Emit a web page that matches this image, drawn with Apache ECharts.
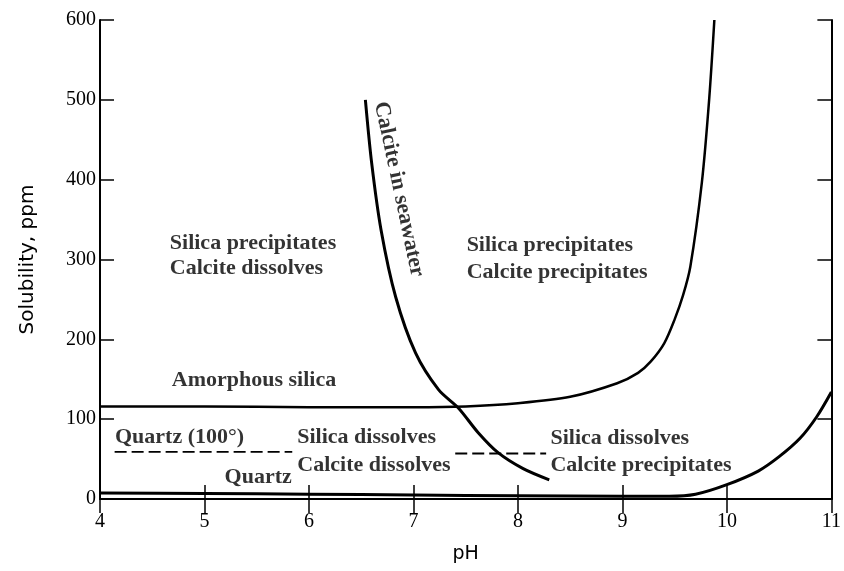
<!DOCTYPE html>
<html>
<head>
<meta charset="utf-8">
<script src="https://cdn.jsdelivr.net/npm/echarts@6/dist/echarts.min.js"></script>
<style>html,body{margin:0;padding:0;background:#fff}#c{width:844px;height:571px}</style>
</head>
<body>
<div id="c"></div>
<script>
// ---- data ----
const xTicks = [4, 5, 6, 7, 8, 9, 10, 11];
const yTicks = [0, 100, 200, 300, 400, 500, 600];

const amorphousPH  = [4, 5, 6, 7, 7.5, 8, 8.5, 8.95, 9.15, 9.27, 9.4, 9.5, 9.58, 9.65, 9.76, 9.83, 9.88];
const amorphousPPM = [116, 116, 115, 115, 116, 120, 128, 145, 158, 172, 195, 225, 255, 291, 396, 500, 600];

const calcitePH  = [6.54, 6.6, 6.69, 6.83, 7.02, 7.24, 7.43, 7.62, 7.81, 8.05, 8.3];
const calcitePPM = [500, 421, 337, 253, 183, 137, 114, 83, 58, 38, 24];

const quartzPH  = [4, 5, 6, 7, 8, 9, 9.45, 9.7, 10, 10.3, 10.5, 10.7, 10.86, 11];
const quartzPPM = [7.5, 7, 6, 5, 4, 3.5, 3.5, 6, 18, 35, 53, 76, 103, 134];

const quartz100aPH  = [4.14, 5.84];
const quartz100aPPM = [59, 59];
const quartz100bPH  = [7.4, 8.27];
const quartz100bPPM = [57, 57];

const noteText = ['Silica precipitates', 'Calcite dissolves', 'Silica precipitates', 'Calcite precipitates',
  'Amorphous silica', 'Quartz (100°)', 'Quartz', 'Silica dissolves', 'Calcite dissolves',
  'Silica dissolves', 'Calcite precipitates'];
const notePH  = [4.668, 4.668, 7.509, 7.509, 4.687, 4.143, 5.192, 5.888, 5.888, 8.311, 8.311];
const notePPM = [320.7, 289.4, 318.2, 284.4, 149.1, 77.7, 27.6, 77.7, 42.6, 76.4, 42.6];

const curveLabelText = 'Calcite in seawater';
const curveLabelPH = 6.861;
const curveLabelPPM = 388;

// ---- chart ----
const pair = (xs, ys) => xs.map((x, i) => [x, ys[i]]);
const ink = '#000';
const serif = '"Liberation Serif", "Times New Roman", serif';

const baseX = {
  type: 'value', min: xTicks[0], max: xTicks[xTicks.length - 1], interval: 1,
  axisLine: { show: true, lineStyle: { color: ink, width: 2 } },
  axisTick: { show: true, inside: true, length: 14, lineStyle: { color: ink, width: 1.5 } },
  splitLine: { show: false }
};
const baseY = {
  type: 'value', min: yTicks[0], max: yTicks[yTicks.length - 1], interval: 100,
  axisLine: { show: true, lineStyle: { color: ink, width: 2 } },
  axisTick: { show: true, inside: true, length: 14, lineStyle: { color: ink, width: 1.5 } },
  splitLine: { show: false }
};

const lineSeries = (xs, ys, w, extra) => Object.assign({
  type: 'line', xAxisIndex: 0, yAxisIndex: 0,
  data: pair(xs, ys), showSymbol: false, symbol: 'none',
  smooth: 0.3,
  lineStyle: { color: ink, width: w }, silent: true, animation: false
}, extra || {});

const option = {
  animation: false,
  backgroundColor: '#fff',
  grid: { left: 100, right: 10, top: 20, bottom: 72, containLabel: false },
  xAxis: [
    Object.assign({}, baseX, {
      position: 'bottom',
      axisLabel: { show: true, margin: 13, color: ink, fontFamily: serif, fontSize: 20 },
      name: 'pH', nameLocation: 'middle', nameGap: 46,
      nameTextStyle: { color: ink, fontFamily: '"DejaVu Sans", sans-serif', fontSize: 19 }
    }),
    Object.assign({}, baseX, { position: 'top', axisLabel: { show: false } })
  ],
  yAxis: [
    Object.assign({}, baseY, {
      position: 'left',
      axisLabel: { show: true, margin: 4, color: ink, fontFamily: serif, fontSize: 20 },
      name: 'Solubility, ppm', nameLocation: 'middle', nameGap: 62,
      nameTextStyle: { color: ink, fontFamily: '"DejaVu Sans", sans-serif', fontSize: 20 }
    }),
    Object.assign({}, baseY, { position: 'right', axisLabel: { show: false } })
  ],
  series: [
    lineSeries(amorphousPH, amorphousPPM, 2.5),
    lineSeries(calcitePH, calcitePPM, 3),
    lineSeries(quartzPH, quartzPPM, 3),
    lineSeries(quartz100aPH, quartz100aPPM, 1.8, { smooth: false, lineStyle: { color: ink, width: 1.8, type: [12, 5] } }),
    lineSeries(quartz100bPH, quartz100bPPM, 1.8, { smooth: false, lineStyle: { color: ink, width: 1.8, type: [12, 5] } }),
    {
      type: 'scatter', symbolSize: 0, silent: true, animation: false,
      data: notePH.map((x, i) => ({ value: [x, notePPM[i]], name: noteText[i] })),
      label: {
        show: true, position: 'right', distance: 0, formatter: p => p.name,
        color: ink, fontFamily: serif, fontSize: 22, fontWeight: 'bold'
      }
    },
    {
      type: 'scatter', symbolSize: 0, silent: true, animation: false,
      data: [{ value: [curveLabelPH, curveLabelPPM], name: curveLabelText }],
      label: {
        show: true, position: 'inside', rotate: -78, formatter: p => p.name,
        color: ink, fontFamily: serif, fontSize: 22, fontWeight: 'bold'
      }
    }
  ]
};

const chart = echarts.init(document.getElementById('c'), null, { renderer: 'canvas' });
chart.setOption(option);
</script>
</body>
</html>
